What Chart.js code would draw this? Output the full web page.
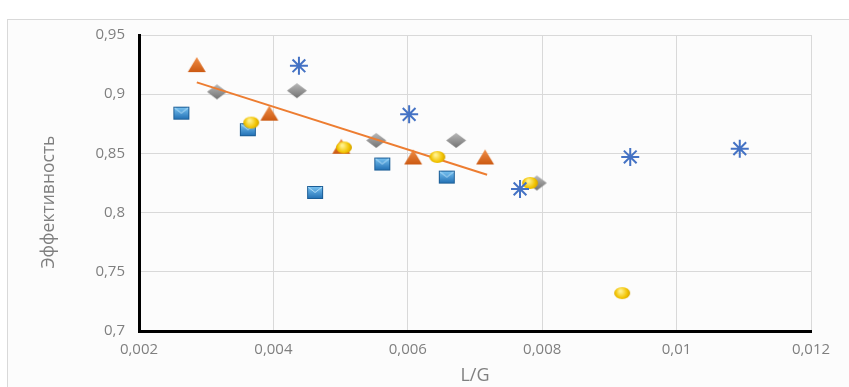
<!DOCTYPE html>
<html>
<head>
<meta charset="utf-8">
<script src="https://cdn.jsdelivr.net/npm/chart.js@4.4.1/dist/chart.umd.min.js"></script>
<style>
body { margin: 0; background: #fff; }
#frame { position: absolute; left: 7px; top: 19px; width: 900px; height: 400px; border: 1px solid #d9d9d9; background: #fcfcfc; }
#wrap { position: absolute; left: 0; top: 0; width: 849px; height: 387px; }
</style>
</head>
<body>
<div id="frame"></div>
<div id="wrap"><canvas id="myChart" width="849" height="387"></canvas></div>
<script>
"use strict";
// axis ticks
const xTicks = [0.002, 0.004, 0.006, 0.008, 0.01, 0.012];
const yTicks = [0.7, 0.75, 0.8, 0.85, 0.9, 0.95];

// series (L/G, efficiency)
const squaresX = [0.00263, 0.00362, 0.00462, 0.00562, 0.00658];
const squaresY = [0.884, 0.870, 0.817, 0.841, 0.830];
const trianglesX = [0.00286, 0.00394, 0.00501, 0.00608, 0.00715];
const trianglesY = [0.925, 0.884, 0.856, 0.847, 0.847];
const diamondsX = [0.00316, 0.00435, 0.00553, 0.00672, 0.00792];
const diamondsY = [0.902, 0.903, 0.861, 0.861, 0.825];
const circlesX = [0.00367, 0.00505, 0.00644, 0.00782, 0.00919];
const circlesY = [0.876, 0.855, 0.847, 0.825, 0.732];
const starsX = [0.00438, 0.00602, 0.00767, 0.00931, 0.01094];
const starsY = [0.924, 0.883, 0.820, 0.847, 0.854];
// trend line ends
const trendX = [0.00286, 0.00718];
const trendY = [0.910, 0.832];

const yTitle = 'Эффективность';

function pts(xs, ys) {
    return xs.map((x, i) => ({ x: x, y: ys[i] }));
}

function sprite(w, h, draw) {
    const c = document.createElement('canvas');
    c.width = w;
    c.height = h;
    draw(c.getContext('2d'), w, h);
    return c;
}

const squareImg = sprite(18, 15, (g, w, h) => {
    const gr = g.createLinearGradient(0, 1, 0, h - 1);
    gr.addColorStop(0, '#7cc6f4');
    gr.addColorStop(1, '#1f6db2');
    g.fillStyle = gr;
    g.fillRect(1, 1, w - 2, h - 2);
    g.strokeStyle = '#1b5d96';
    g.lineWidth = 1;
    g.strokeRect(1.5, 1.5, w - 3, h - 3);
    g.strokeStyle = 'rgba(200,235,255,0.8)';
    g.beginPath();
    g.moveTo(2, 2); g.lineTo(w / 2, h / 2); g.lineTo(w - 2, 2);
    g.stroke();
});

const triangleImg = sprite(20, 17, (g, w, h) => {
    const gr = g.createLinearGradient(0, 0, 0, h);
    gr.addColorStop(0, '#f3924a');
    gr.addColorStop(1, '#c9560f');
    g.fillStyle = gr;
    g.beginPath();
    g.moveTo(w / 2, 1); g.lineTo(w - 1, h - 1); g.lineTo(1, h - 1);
    g.closePath();
    g.fill();
});

const diamondImg = sprite(22, 17, (g, w, h) => {
    const gr = g.createLinearGradient(0, 0, 0, h);
    gr.addColorStop(0, '#bdbdbd');
    gr.addColorStop(1, '#6e6e6e');
    g.fillStyle = gr;
    g.beginPath();
    g.moveTo(w / 2, 1); g.lineTo(w - 1, h / 2); g.lineTo(w / 2, h - 1); g.lineTo(1, h / 2);
    g.closePath();
    g.fill();
});

const circleImg = sprite(18, 14, (g, w, h) => {
    const gr = g.createRadialGradient(w * 0.4, h * 0.35, 1, w / 2, h / 2, w / 2);
    gr.addColorStop(0, '#fff08a');
    gr.addColorStop(0.6, '#f2c300');
    gr.addColorStop(1, '#c99700');
    g.fillStyle = gr;
    g.beginPath();
    g.ellipse(w / 2, h / 2, w / 2 - 1, h / 2 - 1, 0, 0, Math.PI * 2);
    g.fill();
});

// y title sits a bit below the plot centre in the original
const yTitlePlugin = {
    id: 'yTitle',
    afterDraw(chart) {
        const c = chart.ctx;
        c.save();
        c.translate(49, 202);
        c.rotate(-Math.PI / 2);
        c.fillStyle = '#7f7f7f';
        c.font = "17.5px 'Open Sans', sans-serif";
        c.textAlign = 'center';
        c.textBaseline = 'middle';
        c.fillText(yTitle, 0, 0);
        c.restore();
    }
};

const tickFmt = v => String(v).replace('.', ',');
const tickFont = { family: "'Open Sans', sans-serif", size: 15 };

const ctx = document.getElementById('myChart');
var myChart = new Chart(ctx, {
    type: 'scatter',
    data: {
        datasets: [{
                data: pts(starsX, starsY),
                pointStyle: 'star',
                pointRadius: 9,
                borderColor: '#4472c4',
                borderWidth: 2
            },
            {
                data: pts(circlesX, circlesY),
                pointStyle: circleImg
            },
            {
                data: pts(trendX, trendY),
                showLine: true,
                borderColor: '#ed7d31',
                borderWidth: 2,
                pointRadius: 0
            },
            {
                data: pts(diamondsX, diamondsY),
                pointStyle: diamondImg
            },
            {
                data: pts(trianglesX, trianglesY),
                pointStyle: triangleImg
            },
            {
                data: pts(squaresX, squaresY),
                pointStyle: squareImg
            }
        ]
    },
    options: {
        responsive: false,
        animation: false,
        layout: {
            padding: { top: 35, right: 38, bottom: 0, left: 0 }
        },
        plugins: {
            legend: { display: false },
            tooltip: { enabled: false }
        },
        scales: {
            x: {
                type: 'linear',
                min: 0.002,
                max: 0.012,
                afterBuildTicks: s => { s.ticks = xTicks.map(v => ({ value: v })); },
                afterFit: s => { s.height = 56; },
                grid: { color: '#d9d9d9', drawTicks: false },
                border: { color: '#000', width: 3 },
                ticks: { callback: tickFmt, color: '#7f7f7f', font: tickFont, padding: 10, maxRotation: 0 },
                title: {
                    display: true,
                    text: 'L/G',
                    color: '#7f7f7f',
                    font: { family: "'Open Sans', sans-serif", size: 18 },
                    padding: { top: 0, bottom: 0 }
                }
            },
            y: {
                type: 'linear',
                min: 0.7,
                max: 0.95,
                afterBuildTicks: s => { s.ticks = yTicks.map(v => ({ value: v })); },
                afterFit: s => { s.width = 139; },
                grid: { color: '#d9d9d9', drawTicks: false },
                border: { color: '#000', width: 3 },
                ticks: { callback: tickFmt, color: '#7f7f7f', font: tickFont, padding: 14 }
            }
        }
    },
    plugins: [yTitlePlugin]
});
</script>
</body>
</html>
